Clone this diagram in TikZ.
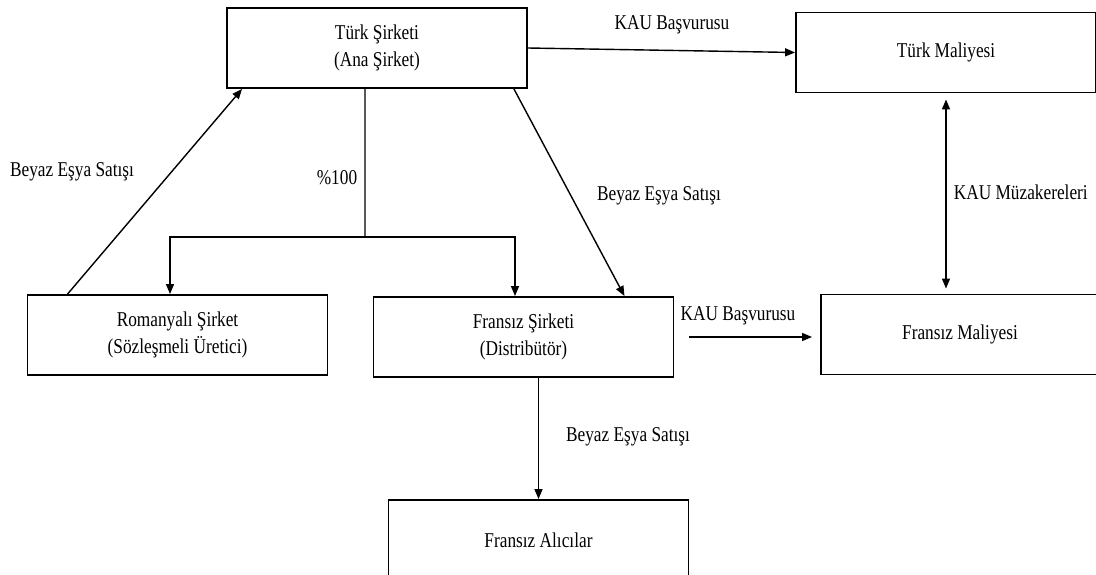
\documentclass[tikz,border=0pt]{standalone}
\usepackage{fontspec}
\setmainfont[FakeStretch=0.82]{Liberation Serif}
\usepackage{tikz}
\usetikzlibrary{arrows.meta}

\begin{document}
\begin{tikzpicture}[x=0.02cm,y=-0.02cm,
  box/.style={draw,line width=1.1pt,minimum width=6cm,minimum height=1.6cm,align=center,
    font=\fontsize{12}{15.3}\selectfont},
  lbl/.style={font=\fontsize{12}{14}\selectfont},
  flow/.style={line width=0.8pt,-{Triangle[length=2mm,width=1.6mm]}},
  both/.style={line width=0.8pt,{Triangle[length=2mm,width=1.6mm]}-{Triangle[length=2mm,width=1.6mm]}}]
  \useasboundingbox (0,0) rectangle (1096,575);
  \node[box] (turk) at (377,48) {Türk Şirketi\\(Ana Şirket)};
  \node[box] (trmal) at (946,52.5) {Türk Maliyesi};
  \node[box] (roman) at (177.5,335) {Romanyalı Şirket\\(Sözleşmeli Üretici)};
  \node[box] (frsir) at (523.5,337) {Fransız Şirketi\\(Distribütör)};
  \node[box,minimum width=5.56cm] (frmal) at (960,334.5) {Fransız Maliyesi};
  \node[box] (alici) at (538.5,540) {Fransız Alıcılar};
  \coordinate (split) at (365,237);
  \draw[flow] (turk.east) -- (trmal.west);
  \draw[flow] ([xshift=0.82cm]roman.north west) -- ([xshift=0.32cm]turk.south west);
  \draw[flow] ([xshift=-0.28cm]turk.south east) -- ([xshift=-1cm]frsir.north east);
  \draw[line width=0.8pt] ([xshift=-0.24cm]turk.south) -- (split);
  \draw[flow] (split) -| ([xshift=-0.15cm]roman.north);
  \draw[flow] (split) -| ([xshift=-0.17cm]frsir.north);
  \draw[flow] (frsir.south -| alici.north) -- (alici.north);
  \draw[flow] ([xshift=0.3cm]frsir.east) -- ([xshift=-0.16cm]frsir.east -| frmal.west);
  \draw[both] ([yshift=-0.12cm]trmal.south) -- ([yshift=0.1cm]trmal.south |- frmal.north);
  \node[lbl] (kau1) at (672,25) {KAU Başvurusu};
  \node[lbl] (kau2) at (738,316) {KAU Başvurusu};
  \node[lbl,anchor=east] (muzak) at (1094,192) {KAU Müzakereleri};
  \node[lbl] (pay) at (337,178) {\%100};
  \node[lbl] (satis1) at (72,172) {Beyaz Eşya Satışı};
  \node[lbl] (satis2) at (659,196) {Beyaz Eşya Satışı};
  \node[lbl] (satis3) at (628,437) {Beyaz Eşya Satışı};
\end{tikzpicture}
\end{document}
